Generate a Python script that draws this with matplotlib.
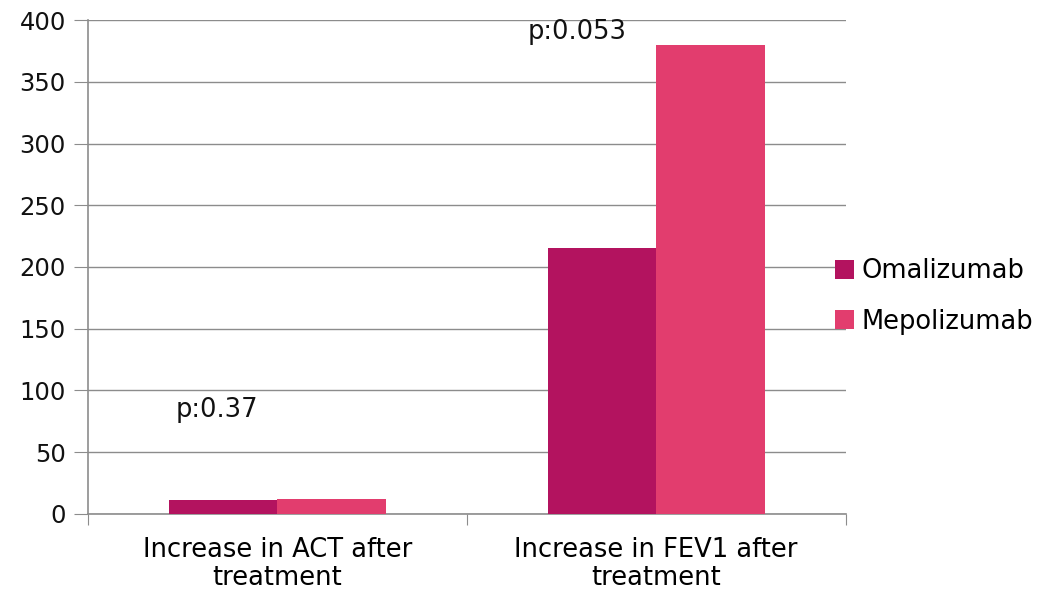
import matplotlib.pyplot as plt
import numpy as np

categories = ['Increase in ACT after\ntreatment', 'Increase in FEV1 after\ntreatment']
omalizumab = [11, 215]
mepolizumab = [12, 380]
p_labels = ['p:0.37', 'p:0.053']
p_label_pos = [(-0.16, 84), (0.79, 390)]

plt.rcParams['font.family'] = ['DejaVu Sans']
plt.rcParams['font.size'] = 17.5

fig = plt.figure(figsize=(10.61, 5.92), dpi=100)
ax = fig.add_axes([0.083, 0.132, 0.714, 0.834])

x = np.arange(len(categories))
w = 0.286
ax.bar(x - w / 2, omalizumab, w, color='#B3135F', label='Omalizumab', zorder=3)
ax.bar(x + w / 2, mepolizumab, w, color='#E23D6E', label='Mepolizumab', zorder=3)

for text, (tx, ty) in zip(p_labels, p_label_pos):
    ax.text(tx, ty, text, ha='center', va='center', fontsize=18.5, color='#111111')

ax.set_xlim(-0.5, 1.5)
ax.set_ylim(0, 400)
ax.set_yticks(range(0, 401, 50))
ax.yaxis.grid(True, color='#8c8c8c', linewidth=1, zorder=0)

# category labels sit between the boundary ticks
ax.set_xticks([-0.5, 0.5, 1.5])
ax.set_xticklabels([])
ax.set_xticks(x, minor=True)
ax.set_xticklabels(categories, minor=True, fontsize=18.5, linespacing=1.1)
ax.tick_params(axis='x', which='minor', length=0, pad=17)
ax.tick_params(axis='x', which='major', length=8, color='#8c8c8c')
ax.tick_params(axis='y', length=10, color='#8c8c8c', pad=6, labelcolor='#111111')

for side in ['top', 'right']:
    ax.spines[side].set_visible(False)
ax.spines['left'].set_color('#8c8c8c')
ax.spines['bottom'].set_color('#8c8c8c')
ax.spines['left'].set_linewidth(1.2)
ax.spines['bottom'].set_linewidth(1.2)

ax.legend(loc='center left', bbox_to_anchor=(0.962, 0.44), frameon=False,
          handlelength=0.75, handleheight=0.75, handletextpad=0.3,
          labelspacing=0.95, fontsize=18.5, borderpad=0.2)

fig.savefig('out.png', dpi=100)
